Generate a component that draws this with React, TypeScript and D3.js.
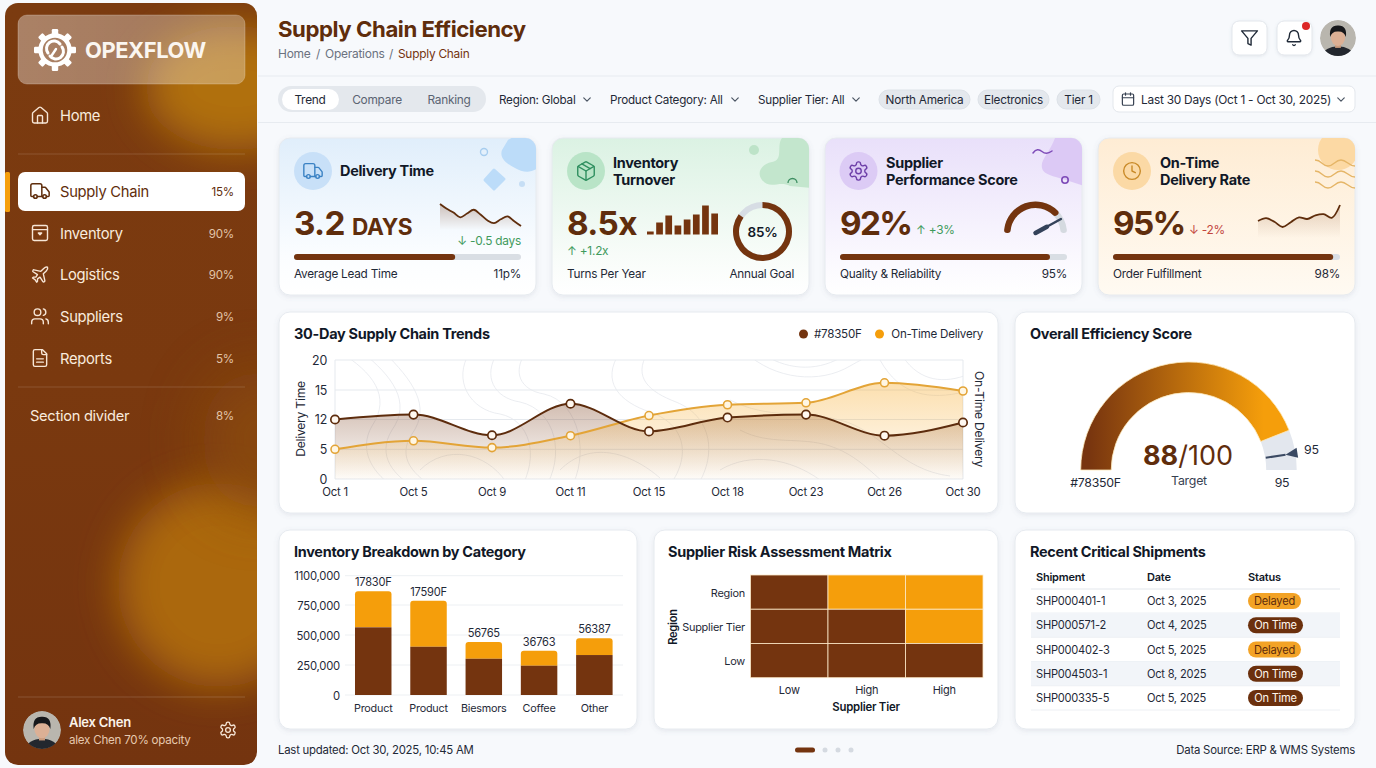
import * as d3 from 'd3';

const FONT = "Inter, 'Noto Sans', sans-serif";
const BROWN = '#74340F';
const AMBER = '#F59E0B';
const INK = '#111827';
const TITLE = '#5f2d0c';

// Trend chart
const trendDays = ['Oct 1', 'Oct 5', 'Oct 9', 'Oct 11', 'Oct 15', 'Oct 18', 'Oct 23', 'Oct 26', 'Oct 30'];
const deliveryTime = [12.0, 12.5, 8.3, 13.6, 9.2, 12.2, 12.5, 8.2, 11.3];
const onTimeDelivery = [5.0, 7.0, 5.4, 8.2, 12.4, 13.5, 13.7, 16.2, 14.9];
const trendTicks = [0, 5, 12, 15, 20];

// KPI minis
const leadSpark = [6.6, 6.1, 5.7, 5.2, 5.6, 6.0, 5.5, 4.9, 4.6, 5.0, 5.3, 4.8, 4.3];
const turnBars = [3, 12, 19, 9, 15, 20, 29, 21];
const fulfilSpark = [4.1, 4.8, 3.9, 2.6, 3.8, 5.0, 4.6, 5.5, 5.8, 4.9, 8.1];
const progressValues = [71, 92.5, 97];
const turnGoal = 85;
const supplierArc = 78;
const supplierNeedle = 84;

// Overall score
const overallScore = 88;
const overallTarget = 95;

// Inventory
const inventoryCategories = ['Product', 'Product', 'Biesmors', 'Coffee', 'Other'];
const inventoryLower = [564000, 402000, 302000, 244000, 333000];
const inventoryTotal = [913000, 801000, 442000, 369000, 472000];
const inventoryLabels = ['17830F', '17590F', '56765', '36763', '56387'];
const inventoryTicks = [0, 250000, 500000, 750000, 1100000];
const inventoryTickLabels = ['0', '250,000', '500,000', '750,000', '1100,000'];

// Risk matrix
const riskRows = ['Region', 'Supplier Tier', 'Low'];
const riskCols = ['Low', 'High', 'High'];
const riskLevels = [
  [0, 1, 1],
  [0, 0, 1],
  [0, 0, 0],
];

// Shipments
const shipmentIds = ['SHP000401-1', 'SHP000571-2', 'SHP000402-3', 'SHP004503-1', 'SHP000335-5'];
const shipmentDates = ['Oct 3, 2025', 'Oct 4, 2025', 'Oct 5, 2025', 'Oct 8, 2025', 'Oct 5, 2025'];
const shipmentStatus = ['Delayed', 'On Time', 'Delayed', 'On Time', 'On Time'];

// Sidebar
const navLabels = ['Inventory', 'Logistics', 'Suppliers', 'Reports'];
const navShares = ['90%', '90%', '9%', '5%'];

const ICONS: Record<string, string[]> = {
  truck: [
    'M14 18V6a2 2 0 0 0-2-2H4a2 2 0 0 0-2 2v11a1 1 0 0 0 1 1h2',
    'M15 18H9',
    'M19 18h2a1 1 0 0 0 1-1v-3.65a1 1 0 0 0-.22-.624l-3.48-4.35A1 1 0 0 0 17.52 8H14',
    'M19 18a2 2 0 1 1-4 0a2 2 0 1 1 4 0',
    'M9 18a2 2 0 1 1-4 0a2 2 0 1 1 4 0',
  ],
  home: [
    'M15 21v-8a1 1 0 0 0-1-1h-4a1 1 0 0 0-1 1v8',
    'M3 10a2 2 0 0 1 .709-1.528l7-5.999a2 2 0 0 1 2.582 0l7 5.999A2 2 0 0 1 21 10v9a2 2 0 0 1-2 2H5a2 2 0 0 1-2-2z',
  ],
  box: ['M5 3h14a2 2 0 0 1 2 2v14a2 2 0 0 1-2 2H5a2 2 0 0 1-2-2V5a2 2 0 0 1 2-2z', 'M3 8h18', 'M10 12h4l-2 2z'],
  plane: [
    'M17.8 19.2 16 11l3.5-3.5C21 6 21.5 4 21 3c-1-.5-3 0-4.5 1.5L13 8 4.8 6.2c-.5-.1-.9.1-1.1.5l-.3.5c-.2.5-.1 1 .3 1.3L9 12l-2 3H4l-1 1 3 2 2 3 1-1v-3l3-2 3.5 5.3c.3.4.8.5 1.3.3l.5-.2c.4-.3.6-.7.5-1.2z',
  ],
  users: [
    'M16 21v-2a4 4 0 0 0-4-4H6a4 4 0 0 0-4 4v2',
    'M16 3.128a4 4 0 0 1 0 7.744',
    'M22 21v-2a4 4 0 0 0-3-3.87',
    'M13 7a4 4 0 1 1-8 0a4 4 0 1 1 8 0',
  ],
  file: ['M15 2H6a2 2 0 0 0-2 2v16a2 2 0 0 0 2 2h12a2 2 0 0 0 2-2V7Z', 'M14 2v4a2 2 0 0 0 2 2h4', 'M16 13H8', 'M16 17H8'],
  gear: [
    'M12.22 2h-.44a2 2 0 0 0-2 2v.18a2 2 0 0 1-1 1.73l-.43.25a2 2 0 0 1-2 0l-.15-.08a2 2 0 0 0-2.73.73l-.22.38a2 2 0 0 0 .73 2.73l.15.1a2 2 0 0 1 1 1.72v.51a2 2 0 0 1-1 1.74l-.15.09a2 2 0 0 0-.73 2.73l.22.38a2 2 0 0 0 2.73.73l.15-.08a2 2 0 0 1 2 0l.43.25a2 2 0 0 1 1 1.73V20a2 2 0 0 0 2 2h.44a2 2 0 0 0 2-2v-.18a2 2 0 0 1 1-1.73l.43-.25a2 2 0 0 1 2 0l.15.08a2 2 0 0 0 2.73-.73l.22-.39a2 2 0 0 0-.73-2.73l-.15-.08a2 2 0 0 1-1-1.74v-.5a2 2 0 0 1 1-1.74l.15-.09a2 2 0 0 0 .73-2.73l-.22-.38a2 2 0 0 0-2.73-.73l-.15.08a2 2 0 0 1-2 0l-.43-.25a2 2 0 0 1-1-1.73V4a2 2 0 0 0-2-2z',
    'M15 12a3 3 0 1 1-6 0a3 3 0 1 1 6 0',
  ],
  package: [
    'M11 21.73a2 2 0 0 0 2 0l7-4A2 2 0 0 0 21 16V8a2 2 0 0 0-1-1.73l-7-4a2 2 0 0 0-2 0l-7 4A2 2 0 0 0 3 8v8a2 2 0 0 0 1 1.73z',
    'M12 22V12',
    'm3.3 7 8.7 5 8.7-5',
    'm7.5 4.27 9 5.15',
  ],
  clock: ['M22 12a10 10 0 1 1-20 0a10 10 0 1 1 20 0', 'M12 6v6l4 2'],
  filter: ['M22 3H2l8 9.46V19l4 2v-8.54L22 3z'],
  bell: [
    'M10.268 21a2 2 0 0 0 3.464 0',
    'M3.262 15.326A1 1 0 0 0 4 17h16a1 1 0 0 0 .74-1.673C19.41 13.956 18 12.499 18 8A6 6 0 0 0 6 8c0 4.499-1.411 5.956-2.738 7.326',
  ],
  calendar: ['M8 2v4', 'M16 2v4', 'M5 4h14a2 2 0 0 1 2 2v14a2 2 0 0 1-2 2H5a2 2 0 0 1-2-2V6a2 2 0 0 1 2-2z', 'M3 10h18'],
  chevron: ['m6 9 6 6 6-6'],
};

function Icon({ name, cx, cy, size, color, sw = 1.7 }: { name: string; cx: number; cy: number; size: number; color: string; sw?: number }) {
  const k = size / 24;
  return (
    <g transform={`translate(${cx - size / 2},${cy - size / 2}) scale(${k})`} fill="none" stroke={color} strokeWidth={sw / k} strokeLinecap="round" strokeLinejoin="round">
      {ICONS[name].map((d, i) => (
        <path key={i} d={d} />
      ))}
    </g>
  );
}

// The installed Inter runs wider than the reference's, hence the tightening here.
function Txt({ x, y, size = 12, weight = 400, fill = INK, anchor = 'start', children, ...rest }: any) {
  return (
    <text x={x} y={y} fontSize={size * 0.965} letterSpacing="-0.02em" fontWeight={weight} fill={fill} textAnchor={anchor} fontFamily={FONT} {...rest}>
      {children}
    </text>
  );
}

function Card({ x, y, w, h, fill = '#fff' }: { x: number; y: number; w: number; h: number; fill?: string }) {
  return <rect x={x} y={y} width={w} height={h} rx={11} fill={fill} stroke="#e6eaef" strokeWidth={1} filter="url(#cardShadow)" />;
}

function Avatar({ cx, cy, r, id }: { cx: number; cy: number; r: number; id: string }) {
  return (
    <g>
      <clipPath id={id}>
        <circle cx={cx} cy={cy} r={r} />
      </clipPath>
      <g clipPath={`url(#${id})`}>
        <circle cx={cx} cy={cy} r={r} fill="#b9b6ae" />
        <ellipse cx={cx} cy={cy + r * 0.98} rx={r * 0.85} ry={r * 0.52} fill="#23272e" />
        <rect x={cx - r * 0.16} y={cy + r * 0.2} width={r * 0.32} height={r * 0.35} fill="#c99a7c" />
        <ellipse cx={cx} cy={cy - r * 0.06} rx={r * 0.4} ry={r * 0.5} fill="#dcb095" />
        <path
          d={`M${cx - r * 0.44} ${cy - r * 0.05} Q${cx - r * 0.52} ${cy - r * 0.72} ${cx} ${cy - r * 0.7} Q${cx + r * 0.52} ${cy - r * 0.72} ${cx + r * 0.44} ${cy - r * 0.05} Q${cx + r * 0.34} ${cy - r * 0.38} ${cx} ${cy - r * 0.36} Q${cx - r * 0.34} ${cy - r * 0.38} ${cx - r * 0.44} ${cy - r * 0.05}Z`}
          fill="#17181b"
        />
      </g>
    </g>
  );
}

function Sidebar() {
  const rowY = d3.scalePoint<string>().domain(navLabels).range([233, 358]);
  const navIcons = ['box', 'plane', 'users', 'file'];
  return (
    <g>
      <clipPath id="sideClip">
        <rect x={5} y={3} width={252} height={762} rx={13} />
      </clipPath>
      <g clipPath="url(#sideClip)">
        <rect x={5} y={3} width={252} height={762} fill="url(#sideBase)" />
        <ellipse cx={235} cy={88} rx={90} ry={62} fill="#b0700f" filter="url(#blur18)" />
        <ellipse cx={218} cy={585} rx={100} ry={102} fill="#ab6811" filter="url(#blur18)" />
        <ellipse cx={262} cy={440} rx={60} ry={70} fill="#8f4f10" filter="url(#blur30)" opacity={0.7} />
      </g>
      <rect x={18} y={15} width={227} height={69} rx={9} fill="url(#logoGlass)" stroke="#ffffff" strokeOpacity={0.22} />
      <g transform="translate(55,50)">
        <g fill="none" stroke="#fff" strokeLinecap="round">
          <circle r={14.5} strokeWidth={4.4} />
          {d3.range(8).map(i => (
            <rect key={i} x={-3.2} y={-21} width={6.4} height={6.5} rx={1.2} fill="#fff" stroke="none" transform={`rotate(${i * 45})`} />
          ))}
          <path d="M-7 3A7.5 7.5 0 0 1 5 -6" strokeWidth={3} />
          <path d="M7 -3A7.5 7.5 0 0 1 -5 6" strokeWidth={3} />
          <path d="M1 -1L-3 5" strokeWidth={2.4} />
        </g>
      </g>
      <Txt x={85} y={57.5} size={22.7} weight={700} fill="#fbf6f0">OPEXFLOW</Txt>

      <Icon name="home" cx={40} cy={115.5} size={20} color="#f7e6d6" sw={1.4} />
      <Txt x={60} y={121} size={15.3} fill="#f9ebdd">Home</Txt>
      <line x1={18} x2={245} y1={154} y2={154} stroke="#fff" strokeOpacity={0.14} />

      <rect x={5} y={172} width={5} height={40} rx={1.5} fill={AMBER} />
      <rect x={18} y={172} width={227} height={39} rx={7} fill="#fff" />
      <Icon name="truck" cx={40} cy={191} size={22} color={TITLE} sw={1.5} />
      <Txt x={60} y={197} size={15.3} fill={TITLE}>Supply Chain</Txt>
      <Txt x={234} y={196} size={12} fill={TITLE} anchor="end">15%</Txt>

      {navLabels.map((label, i) => (
        <g key={label}>
          <Icon name={navIcons[i]} cx={40} cy={rowY(label)!} size={20} color="#f7e6d6" sw={1.4} />
          <Txt x={60} y={rowY(label)! + 5.5} size={15.3} fill="#f9ebdd">{label}</Txt>
          <Txt x={234} y={rowY(label)! + 4.5} size={12} fill="#e2c4a8" anchor="end">{navShares[i]}</Txt>
        </g>
      ))}
      <line x1={18} x2={245} y1={387} y2={387} stroke="#fff" strokeOpacity={0.14} />
      <Txt x={30} y={421} size={15.2} fill="#f9ebdd">Section divider</Txt>
      <Txt x={234} y={420} size={12} fill="#e2c4a8" anchor="end">8%</Txt>
      <line x1={18} x2={245} y1={697} y2={697} stroke="#fff" strokeOpacity={0.16} />
      <Avatar cx={42} cy={730} r={19} id="av1" />
      <Txt x={69} y={727} size={13.5} weight={600} fill="#fbf3ea">Alex Chen</Txt>
      <Txt x={69} y={744} size={12} fill="#e6c9ae">alex Chen 70% opacity</Txt>
      <Icon name="gear" cx={228} cy={730} size={19} color="#f7e6d6" sw={1.3} />
    </g>
  );
}

function Header() {
  const crumbs = [
    ['Home', 278],
    ['/', 316],
    ['Operations', 325],
    ['/', 389],
  ] as [string, number][];
  const filters = [
    ['Region: Global', 499, 587],
    ['Product Category: All', 610, 735],
    ['Supplier Tier: All', 758, 856],
  ] as [string, number, number][];
  const chips = [
    ['North America', 879, 970],
    ['Electronics', 978, 1049],
    ['Tier 1', 1057, 1100],
  ] as [string, number, number][];
  return (
    <g>
      <Txt x={278} y={37} size={23} weight={700} fill={TITLE}>Supply Chain Efficiency</Txt>
      {crumbs.map(([t, x]) => (
        <Txt key={x} x={x} y={58} size={12.4} fill="#6b7280">{t}</Txt>
      ))}
      <Txt x={398} y={58} size={12.3} fill={BROWN}>Supply Chain</Txt>
      {[1232, 1277].map(x => (
        <rect key={x} x={x} y={21} width={35} height={34} rx={7} fill="#fff" stroke="#e3e7ec" filter="url(#softShadow)" />
      ))}
      <Icon name="filter" cx={1249.5} cy={38} size={19} color="#1f2937" sw={1.4} />
      <Icon name="bell" cx={1294} cy={38} size={18} color="#1f2937" sw={1.4} />
      <circle cx={1306} cy={26} r={4} fill="#dc2626" />
      <Avatar cx={1338} cy={38} r={18} id="av2" />
      <line x1={258} x2={1376} y1={76} y2={76} stroke="#e7ebf0" />
      <line x1={258} x2={1376} y1={122.5} y2={122.5} stroke="#e7ebf0" />

      <rect x={278} y={86} width={208} height={26} rx={13} fill="#e4e8ed" />
      <rect x={282} y={89} width={57} height={21} rx={10.5} fill="#fff" />
      <Txt x={310} y={104} size={12.3} anchor="middle" fill="#1f2937">Trend</Txt>
      <Txt x={377} y={104} size={12.3} anchor="middle" fill="#5b6472">Compare</Txt>
      <Txt x={449} y={104} size={12.3} anchor="middle" fill="#5b6472">Ranking</Txt>
      {filters.map(([t, x, cx]) => (
        <g key={t}>
          <Txt x={x} y={104} size={12.1} fill="#1f2937">{t}</Txt>
          <Icon name="chevron" cx={cx} cy={99.5} size={13} color="#4b5563" sw={1.2} />
        </g>
      ))}
      {chips.map(([t, a, b]) => (
        <g key={t}>
          <rect x={a} y={90} width={b - a} height={19} rx={9.5} fill="#e4e8ed" stroke="#dde2e8" />
          <Txt x={(a + b) / 2} y={104} size={12.2} anchor="middle" fill="#1f2937">{t}</Txt>
        </g>
      ))}
      <rect x={1113} y={86} width={242} height={26} rx={6} fill="#fff" stroke="#e3e7ec" />
      <Icon name="calendar" cx={1128} cy={99} size={15} color="#374151" sw={1.2} />
      <Txt x={1141} y={104} size={12.3} fill="#1f2937">Last 30 Days (Oct 1 - Oct 30, 2025)</Txt>
      <Icon name="chevron" cx={1341} cy={99.5} size={13} color="#4b5563" sw={1.2} />
    </g>
  );
}

function ProgressBar({ x, value, left, right }: { x: number; value: number; left: string; right: string }) {
  const scale = d3.scaleLinear().domain([0, 100]).range([x, x + 227]);
  return (
    <g>
      <rect x={x} y={254} width={227} height={6} rx={3} fill="#d9dee4" />
      <rect x={x} y={254} width={scale(value) - x} height={6} rx={3} fill={BROWN} />
      <Txt x={x} y={278} size={12.2} fill="#1f2937">{left}</Txt>
      <Txt x={x + 227} y={278} size={12.2} fill="#1f2937" anchor="end">{right}</Txt>
    </g>
  );
}

function Spark({ data, x0, x1, y0, y1, floor, grad }: { data: number[]; x0: number; x1: number; y0: number; y1: number; floor: number; grad: string }) {
  const x = d3.scaleLinear().domain([0, data.length - 1]).range([x0, x1]);
  const y = d3.scaleLinear().domain([d3.min(data)!, d3.max(data)!]).range([y0, y1]);
  const line = d3.line<number>().x((_, i) => x(i)).y(d => y(d)).curve(d3.curveCatmullRom.alpha(0.5));
  const area = d3.area<number>().x((_, i) => x(i)).y0(floor).y1(d => y(d)).curve(d3.curveCatmullRom.alpha(0.5));
  return (
    <g>
      <path d={area(data)!} fill={`url(#${grad})`} />
      <path d={line(data)!} fill="none" stroke={TITLE} strokeWidth={1.8} strokeLinejoin="round" />
    </g>
  );
}

function KpiCards() {
  const barX = d3.scaleBand<number>().domain(d3.range(turnBars.length)).range([647, 718]).paddingInner(0.27);
  const barH = d3.scaleLinear().domain([0, 30]).range([0, 30]);
  const arc = d3.arc();
  const donutAngle = d3.scaleLinear().domain([0, 100]).range([0, 2 * Math.PI]);
  const gaugeAngle = d3.scaleLinear().domain([0, 100]).range([-Math.PI / 2, Math.PI / 2]);
  const nAngle = gaugeAngle(supplierNeedle);
  const gx = 1035.5;
  const gy = 233;
  return (
    <g>
      <Card x={279} y={138} w={257} h={157} fill="url(#cardBlue)" />
      <Card x={552} y={138} w={257} h={157} fill="url(#cardGreen)" />
      <Card x={825} y={138} w={257} h={157} fill="url(#cardPurple)" />
      <Card x={1098} y={138} w={257} h={157} fill="url(#cardOrange)" />

      {/* corner decorations */}
      <clipPath id="c1"><rect x={279} y={138} width={257} height={157} rx={11} /></clipPath>
      <clipPath id="c2"><rect x={552} y={138} width={257} height={157} rx={11} /></clipPath>
      <clipPath id="c3"><rect x={825} y={138} width={257} height={157} rx={11} /></clipPath>
      <clipPath id="c4"><rect x={1098} y={138} width={257} height={157} rx={11} /></clipPath>
      <g clipPath="url(#c1)">
        <path d="M508 140C516 134 532 136 538 142L538 168C530 174 522 172 515 168C507 164 499 158 502 150Z" fill="#bcdcf9" />
        <path d="M494 170L504 179L494 189L485 180Z" fill="#bcdcf9" stroke="#bcdcf9" strokeWidth={3} strokeLinejoin="round" />
        <circle cx={522} cy={184} r={3} fill="#c6def5" />
        <circle cx={484} cy={152} r={3.5} fill="none" stroke="#a7cdef" strokeWidth={1.4} />
      </g>
      <g clipPath="url(#c2)">
        <path d="M782 138L812 138L812 188L790 186C780 180 770 190 762 180C756 172 762 164 772 162C784 160 776 146 782 138Z" fill="#c3e6cd" />
        <circle cx={754} cy={150} r={5} fill="#bde3c8" />
        <path d="M788 183a4.5 4.5 0 0 1 9 0" fill="none" stroke="#3f8f63" strokeWidth={1.3} />
      </g>
      <g clipPath="url(#c3)">
        <path d="M1055 138L1084 138L1084 186L1072 182C1056 176 1044 176 1042 168C1040 160 1050 152 1055 138Z" fill="#dcc9f5" />
        <path d="M1033 153c3-4 6-4 9-1.5s6 2.5 10-.5" fill="none" stroke="#7e4bb8" strokeWidth={1.5} strokeLinecap="round" />
        <circle cx={1065} cy={180} r={3.2} fill="none" stroke="#7e4bb8" strokeWidth={1.6} />
      </g>
      <g clipPath="url(#c4)">
        <circle cx={1338} cy={150} r={20} fill="#fcd9a4" />
        {[163, 174, 185].map(y => (
          <path key={y} d={`M1315 ${y - 3}c7 0 7 6 13 6s7-6 13-6s7 6 14 6`} fill="none" stroke="#e5b567" strokeWidth={1.4} />
        ))}
      </g>

      {/* icon circles */}
      <circle cx={313} cy={171} r={19} fill="#c8e0f8" />
      <Icon name="truck" cx={313} cy={171} size={22} color="#3b82c4" sw={1.4} />
      <circle cx={586} cy={171} r={19} fill="#b9e4c7" />
      <Icon name="package" cx={586} cy={171} size={22} color="#2f8f5f" sw={1.4} />
      <circle cx={858.5} cy={171} r={19} fill="#dccbf5" />
      <Icon name="gear" cx={858.5} cy={171} size={22} color="#6d3fa8" sw={1.4} />
      <circle cx={1132} cy={171} r={19} fill="#fbd9a5" />
      <Icon name="clock" cx={1132} cy={171} size={20} color="#c98a28" sw={1.4} />

      <Txt x={340} y={176} size={15} weight={700}>Delivery Time</Txt>
      <Txt x={613} y={168} size={15} weight={700}>Inventory</Txt>
      <Txt x={613} y={185} size={15} weight={700}>Turnover</Txt>
      <Txt x={886} y={168} size={15} weight={700}>Supplier</Txt>
      <Txt x={886} y={185} size={15} weight={700}>Performance Score</Txt>
      <Txt x={1160} y={168} size={15} weight={700}>On-Time</Txt>
      <Txt x={1160} y={185} size={15} weight={700}>Delivery Rate</Txt>

      {/* Delivery time */}
      <Txt x={294} y={235} size={34.5} weight={700} fill={TITLE}>3.2</Txt>
      <Txt x={352} y={235} size={23.5} weight={700} fill={TITLE}>DAYS</Txt>
      <Spark data={leadSpark} x0={440} x1={521} y0={226} y1={204} floor={230} grad="sparkBrown" />
      <Txt x={521} y={245} size={12.3} fill="#3f9a5c" anchor="end">↓ -0.5 days</Txt>
      <ProgressBar x={294} value={progressValues[0]} left="Average Lead Time" right="11p%" />

      {/* Inventory turnover */}
      <Txt x={567} y={235} size={34.5} weight={700} fill={TITLE}>8.5x</Txt>
      {turnBars.map((v, i) => (
        <rect key={i} x={barX(i)} y={234.5 - barH(v)} width={barX.bandwidth()} height={barH(v)} fill={BROWN} />
      ))}
      <Txt x={567} y={255} size={12.3} fill="#3f9a5c">↑ +1.2x</Txt>
      <g transform="translate(762.5,231.5)">
        <circle r={26.5} fill="none" stroke="#d7dde4" strokeWidth={6} />
        <path d={arc({ innerRadius: 23.5, outerRadius: 29.5, startAngle: 0, endAngle: donutAngle(turnGoal) } as any)!} fill={BROWN} />
        <Txt x={0} y={5} size={14} weight={600} anchor="middle">85%</Txt>
      </g>
      <Txt x={567} y={278} size={12.2} fill="#1f2937">Turns Per Year</Txt>
      <Txt x={794} y={278} size={12.2} fill="#1f2937" anchor="end">Annual Goal</Txt>

      {/* Supplier */}
      <Txt x={840} y={235} size={34.5} weight={700} fill={TITLE} letterSpacing="-0.05em">92%</Txt>
      <Txt x={916} y={234} size={12.3} fill="#3f9a5c">↑ +3%</Txt>
      <g transform={`translate(${gx},${gy})`}>
        <path d={d3.arc().cornerRadius(3)({ innerRadius: 25, outerRadius: 31.5, startAngle: gaugeAngle(0), endAngle: gaugeAngle(100) } as any)!} fill="#d5dae0" />
        <path d={d3.arc().cornerRadius(3)({ innerRadius: 25, outerRadius: 31.5, startAngle: gaugeAngle(0), endAngle: gaugeAngle(supplierArc) } as any)!} fill={BROWN} />
        <line x1={0} y1={0} x2={Math.sin(nAngle) * 29} y2={-Math.cos(nAngle) * 29} stroke="#34425a" strokeWidth={2.5} strokeLinecap="round" />
        <line x1={0} y1={0} x2={Math.sin(nAngle) * 13} y2={-Math.cos(nAngle) * 13} stroke="#34425a" strokeWidth={4.5} strokeLinecap="round" />
      </g>
      <ProgressBar x={840} value={progressValues[1]} left="Quality & Reliability" right="95%" />

      {/* On-time */}
      <Txt x={1113} y={235} size={34.5} weight={700} fill={TITLE} letterSpacing="-0.05em">95%</Txt>
      <Txt x={1189} y={234} size={12.3} fill="#c2453d">↓ -2%</Txt>
      <Spark data={fulfilSpark} x0={1258} x1={1340} y0={227} y1={205} floor={238} grad="sparkAmber" />
      <ProgressBar x={1113} value={progressValues[2]} left="Order Fulfillment" right="98%" />
    </g>
  );
}

const contourPaths = [
  'M340 352C372 372 392 396 372 426C358 450 372 474 398 490',
  'M362 352C392 376 412 402 392 430C376 456 394 476 418 490',
  'M384 352C412 380 432 406 412 434C396 458 414 476 438 490',
  'M470 352C452 380 470 410 500 414C530 420 540 456 520 490',
  'M498 352C482 376 494 398 520 402C556 410 566 456 544 490',
  'M526 352C512 372 520 390 544 394C580 402 590 456 570 490',
  'M620 352C600 382 620 402 650 412C690 426 690 462 666 490',
  'M648 352C632 378 650 392 676 402C716 418 716 462 694 490',
  'M745 352C775 380 820 384 850 366C868 356 876 352 880 350',
  'M760 352C785 370 815 372 840 358',
  'M730 400C770 420 800 410 840 420C880 430 900 470 950 476',
  'M740 430C770 446 800 436 830 446C866 458 880 486 900 492',
  'M880 360C900 396 930 400 964 392',
  'M900 352C916 380 940 384 964 376',
  'M560 470C590 440 630 452 660 478',
  'M420 470C446 444 486 452 506 482',
  'M720 470C750 452 790 458 820 480',
];

function TrendChart() {
  const x = d3.scalePoint<string>().domain(trendDays).range([335, 963]);
  const y = d3.scaleLinear().domain(trendTicks).range([479, 449.3, 419.5, 390, 360]);
  const line = d3.line<number>().x((_, i) => x(trendDays[i])!).y(d => y(d)).curve(d3.curveMonotoneX);
  const area = d3.area<number>().x((_, i) => x(trendDays[i])!).y0(y(0)).y1(d => y(d)).curve(d3.curveMonotoneX);
  return (
    <g>
      <Card x={279} y={312} w={719} h={201} />
      <Txt x={294} y={339} size={15} weight={700}>30-Day Supply Chain Trends</Txt>
      <circle cx={803.5} cy={334} r={4.5} fill={BROWN} />
      <Txt x={814} y={338} size={12} fill="#1f2937">#78350F</Txt>
      <circle cx={879.5} cy={334} r={4.5} fill={AMBER} />
      <Txt x={983} y={338} size={12} fill="#1f2937" anchor="end">On-Time Delivery</Txt>

      <clipPath id="plotClip"><rect x={335} y={360} width={628} height={119} /></clipPath>
      <g clipPath="url(#plotClip)" fill="none" stroke="#e6e9ed" strokeWidth={0.8}>
        {contourPaths.map((d, i) => <path key={i} d={d} />)}
      </g>
      {trendTicks.map(t => (
        <g key={t}>
          <line x1={335} x2={963} y1={y(t)} y2={y(t)} stroke="#e5e9ee" />
          <Txt x={327} y={y(t) + 4.5} size={12.9} fill="#1f2937" anchor="end">{t}</Txt>
        </g>
      ))}
      <line x1={335} x2={335} y1={360} y2={479} stroke="#e5e9ee" />
      <line x1={963} x2={963} y1={360} y2={479} stroke="#e5e9ee" />
      <path d={area(deliveryTime)!} fill="url(#trendBrown)" />
      <path d={area(onTimeDelivery)!} fill="url(#trendAmber)" />
      <path d={line(onTimeDelivery)!} fill="none" stroke="#e3a437" strokeWidth={2} />
      <path d={line(deliveryTime)!} fill="none" stroke="#5d2c0d" strokeWidth={2} />
      {onTimeDelivery.map((v, i) => (
        <circle key={i} cx={x(trendDays[i])} cy={y(v)} r={4} fill="#fff6e3" stroke="#e3a437" strokeWidth={1.6} />
      ))}
      {deliveryTime.map((v, i) => (
        <circle key={i} cx={x(trendDays[i])} cy={y(v)} r={4.2} fill="#fff8f0" stroke="#5d2c0d" strokeWidth={1.7} />
      ))}
      {trendDays.map(d => (
        <Txt key={d} x={x(d)} y={496} size={11.8} fill="#1f2937" anchor="middle">{d}</Txt>
      ))}
      <Txt x={0} y={0} size={12.6} fill="#1f2937" anchor="middle" transform="translate(305,419) rotate(-90)">Delivery Time</Txt>
      <Txt x={0} y={0} size={12.6} fill="#1f2937" anchor="middle" transform="translate(975,419) rotate(90)">On-Time Delivery</Txt>
    </g>
  );
}

function EfficiencyGauge() {
  const angle = d3.scaleLinear().domain([0, 100]).range([-Math.PI / 2, Math.PI / 2]);
  const arc = d3.arc();
  const cx = 1188.7;
  const cy = 470;
  const target = angle(overallTarget);
  const px = (r: number) => Math.sin(target) * r;
  const py = (r: number) => -Math.cos(target) * r;
  const nx = Math.cos(target) * 5;
  const ny = Math.sin(target) * 5;
  return (
    <g>
      <Card x={1015} y={312} w={340} h={201} />
      <Txt x={1030} y={339} size={15} weight={700}>Overall Efficiency Score</Txt>
      <g transform={`translate(${cx},${cy})`}>
        <path d={arc({ innerRadius: 77.5, outerRadius: 108, startAngle: angle(overallScore), endAngle: angle(100) } as any)!} fill="#e3e7ee" />
        <path d={arc({ innerRadius: 77.5, outerRadius: 108, startAngle: angle(0), endAngle: angle(overallScore) } as any)!} fill="url(#gaugeGrad)" stroke="#fde7b8" strokeWidth={0.8} />
        <line x1={px(78)} y1={py(78)} x2={px(98)} y2={py(98)} stroke="#3b4a63" strokeWidth={2} />
        <path d={`M${px(98)} ${py(98)}L${px(110) + nx} ${py(110) + ny}L${px(110) - nx} ${py(110) - ny}Z`} fill="#3b4a63" />
      </g>
      <text x={1188} y={465} textAnchor="middle" fontFamily={FONT} fontSize={27} fill={TITLE}>
        <tspan fontWeight={700}>88</tspan>
        <tspan fontWeight={400}>/100</tspan>
      </text>
      <Txt x={1189} y={485} size={12.8} fill="#374151" anchor="middle">Target</Txt>
      <Txt x={1095.5} y={487} size={12.8} fill="#1f2937" anchor="middle">#78350F</Txt>
      <Txt x={1282} y={487} size={12.8} fill="#1f2937" anchor="middle">95</Txt>
      <Txt x={1304} y={454} size={12.8} fill="#1f2937">95</Txt>
    </g>
  );
}

function InventoryChart() {
  const x = d3.scaleBand<number>().domain(d3.range(inventoryCategories.length)).range([345.6, 622]).paddingInner(0.34).paddingOuter(0.17);
  const y = d3.scaleLinear().domain(inventoryTicks).range([695, 665, 635, 605, 575.7]);
  const topPath = (i: number) => {
    const x0 = x(i)!;
    const w = x.bandwidth();
    const y0 = y(inventoryTotal[i]);
    const y1 = y(inventoryLower[i]);
    return `M${x0} ${y1}V${y0 + 3}Q${x0} ${y0} ${x0 + 3} ${y0}H${x0 + w - 3}Q${x0 + w} ${y0} ${x0 + w} ${y0 + 3}V${y1}Z`;
  };
  return (
    <g>
      <Card x={279} y={530} w={358} h={199} />
      <Txt x={294} y={557} size={15} weight={700}>Inventory Breakdown by Category</Txt>
      {inventoryTicks.map((t, i) => (
        <g key={t}>
          <line x1={345} x2={623} y1={y(t)} y2={y(t)} stroke="#edf0f3" />
          <Txt x={340} y={y(t) + 4.5} size={11.7} fill="#1f2937" anchor="end">{inventoryTickLabels[i]}</Txt>
        </g>
      ))}
      {inventoryCategories.map((c, i) => (
        <g key={i}>
          <path d={topPath(i)} fill={AMBER} />
          <rect x={x(i)} y={y(inventoryLower[i])} width={x.bandwidth()} height={y(0) - y(inventoryLower[i])} fill={BROWN} />
          <Txt x={x(i)! + x.bandwidth() / 2} y={y(inventoryTotal[i]) - 5} size={11.5} fill="#1f2937" anchor="middle">{inventoryLabels[i]}</Txt>
          <Txt x={x(i)! + x.bandwidth() / 2} y={712} size={11.2} fill="#1f2937" anchor="middle">{c}</Txt>
        </g>
      ))}
    </g>
  );
}

function RiskMatrix() {
  const x = d3.scaleBand<number>().domain(d3.range(riskCols.length)).range([750.5, 983]);
  const y = d3.scaleBand<number>().domain(d3.range(riskRows.length)).range([575, 677.7]);
  const levelColor = d3.scaleOrdinal<number, string>().domain([0, 1]).range([BROWN, AMBER]);
  return (
    <g>
      <Card x={654} y={530} w={344} h={199} />
      <Txt x={668} y={557} size={15} weight={700}>Supplier Risk Assessment Matrix</Txt>
      {riskLevels.map((row, r) =>
        row.map((v, c) => (
          <rect key={`${r}-${c}`} x={x(c)} y={y(r)} width={x.bandwidth()} height={y.bandwidth()} fill={levelColor(v)} stroke="#fde9c8" strokeWidth={0.8} />
        )),
      )}
      {riskRows.map((l, r) => (
        <Txt key={l} x={745} y={y(r)! + y.bandwidth() / 2 + 4.5} size={11.3} fill="#1f2937" anchor="end">{l}</Txt>
      ))}
      {riskCols.map((l, c) => (
        <Txt key={c} x={x(c)! + x.bandwidth() / 2} y={694} size={11.4} fill="#1f2937" anchor="middle">{l}</Txt>
      ))}
      <Txt x={0} y={0} size={11.5} weight={600} anchor="middle" transform="translate(677,627) rotate(-90)">Region</Txt>
      <Txt x={866} y={711} size={11.8} weight={600} anchor="middle">Supplier Tier</Txt>
    </g>
  );
}

function ShipmentTable() {
  const y = d3.scalePoint<string>().domain(shipmentIds).range([601, 698]);
  return (
    <g>
      <Card x={1015} y={530} w={340} h={199} />
      <Txt x={1030} y={557} size={15} weight={700}>Recent Critical Shipments</Txt>
      <Txt x={1036} y={581} size={11.4} weight={600}>Shipment</Txt>
      <Txt x={1147} y={581} size={11.4} weight={600}>Date</Txt>
      <Txt x={1248} y={581} size={11.4} weight={600}>Status</Txt>
      <line x1={1031} x2={1340} y1={589} y2={589} stroke="#e3e7ec" />
      {shipmentIds.map((id, i) => {
        const cy = y(id)!;
        const delayed = shipmentStatus[i] === 'Delayed';
        return (
          <g key={id}>
            {i % 2 === 1 && <rect x={1031} y={cy - 12} width={309} height={24} fill="#f2f5f9" />}
            <line x1={1031} x2={1340} y1={cy + 12} y2={cy + 12} stroke="#edf0f4" />
            <Txt x={1036} y={cy + 4} size={11.5} fill="#1f2937">{id}</Txt>
            <Txt x={1147} y={cy + 4} size={11.5} fill="#1f2937">{shipmentDates[i]}</Txt>
            <rect x={1248} y={cy - 8} width={delayed ? 53 : 55} height={16} rx={8} fill={delayed ? '#f3a326' : '#6b300d'} />
            <Txt x={delayed ? 1274.5 : 1275.5} y={cy + 4} size={11.5} anchor="middle" fill={delayed ? '#5f2d0c' : '#fff7ec'}>{shipmentStatus[i]}</Txt>
          </g>
        );
      })}
    </g>
  );
}

function Footer() {
  return (
    <g>
      <Txt x={278} y={754} size={11.8} fill="#1f2937">Last updated: Oct 30, 2025, 10:45 AM</Txt>
      <rect x={795} y={747.5} width={20} height={5} rx={2.5} fill={BROWN} />
      {[825, 838, 851].map(cx => (
        <circle key={cx} cx={cx} cy={750} r={2.5} fill="#d5dae1" />
      ))}
      <Txt x={1355} y={754} size={11.8} fill="#1f2937" anchor="end">Data Source: ERP & WMS Systems</Txt>
    </g>
  );
}

export default function App() {
  return (
    <svg width={1376} height={768} viewBox="0 0 1376 768" style={{ position: 'absolute', left: 0, top: 0, display: 'block' }}>
      <defs>
        <filter id="cardShadow" x="-5%" y="-5%" width="110%" height="115%">
          <feDropShadow dx={0} dy={1.5} stdDeviation={2.5} floodColor="#64748b" floodOpacity={0.14} />
        </filter>
        <filter id="softShadow" x="-20%" y="-20%" width="140%" height="140%">
          <feDropShadow dx={0} dy={1} stdDeviation={1.5} floodColor="#64748b" floodOpacity={0.15} />
        </filter>
        <filter id="blur18" x="-60%" y="-60%" width="220%" height="220%"><feGaussianBlur stdDeviation={20} /></filter>
        <filter id="blur30" x="-60%" y="-60%" width="220%" height="220%"><feGaussianBlur stdDeviation={30} /></filter>
        <linearGradient id="sideBase" x1="0" x2="0" y1="0" y2="1">
          <stop offset="0" stopColor="#7b3b10" />
          <stop offset="0.5" stopColor="#7a390f" />
          <stop offset="1" stopColor="#74340f" />
        </linearGradient>
        <linearGradient id="logoGlass" x1="0" x2="1" y1="0" y2="0">
          <stop offset="0" stopColor="#fff" stopOpacity={0.36} />
          <stop offset="1" stopColor="#fff" stopOpacity={0.3} />
        </linearGradient>
        <linearGradient id="cardBlue" x1="0" x2="0" y1="0" y2="1">
          <stop offset="0" stopColor="#e0eefb" />
          <stop offset="0.75" stopColor="#fbfdff" />
          <stop offset="1" stopColor="#ffffff" />
        </linearGradient>
        <linearGradient id="cardGreen" x1="0" x2="0" y1="0" y2="1">
          <stop offset="0" stopColor="#dbf2e3" />
          <stop offset="0.75" stopColor="#f8fcf9" />
          <stop offset="1" stopColor="#ffffff" />
        </linearGradient>
        <linearGradient id="cardPurple" x1="0" x2="0" y1="0" y2="1">
          <stop offset="0" stopColor="#e9e0fa" />
          <stop offset="0.75" stopColor="#faf8fe" />
          <stop offset="1" stopColor="#ffffff" />
        </linearGradient>
        <linearGradient id="cardOrange" x1="0" x2="0" y1="0" y2="1">
          <stop offset="0" stopColor="#feecd4" />
          <stop offset="1" stopColor="#fffaf2" />
        </linearGradient>
        <linearGradient id="sparkBrown" x1="0" x2="0" y1="0" y2="1">
          <stop offset="0" stopColor={BROWN} stopOpacity={0.28} />
          <stop offset="1" stopColor={BROWN} stopOpacity={0} />
        </linearGradient>
        <linearGradient id="sparkAmber" x1="0" x2="0" y1="0" y2="1">
          <stop offset="0" stopColor={BROWN} stopOpacity={0.2} />
          <stop offset="1" stopColor={BROWN} stopOpacity={0} />
        </linearGradient>
        <linearGradient id="trendBrown" gradientUnits="userSpaceOnUse" x1="0" x2="0" y1="400" y2="480">
          <stop offset="0" stopColor={BROWN} stopOpacity={0.34} />
          <stop offset="1" stopColor={BROWN} stopOpacity={0} />
        </linearGradient>
        <linearGradient id="trendAmber" gradientUnits="userSpaceOnUse" x1="0" x2="0" y1="380" y2="480">
          <stop offset="0" stopColor={AMBER} stopOpacity={0.34} />
          <stop offset="1" stopColor={AMBER} stopOpacity={0.02} />
        </linearGradient>
        <linearGradient id="gaugeGrad" gradientUnits="userSpaceOnUse" x1="-100" x2="75" y1="0" y2="0">
          <stop offset="0" stopColor="#78350F" />
          <stop offset="1" stopColor="#F59E0B" />
        </linearGradient>
      </defs>
      <rect width={1376} height={768} fill="#f7f9fc" />
      <Sidebar />
      <Header />
      <KpiCards />
      <TrendChart />
      <EfficiencyGauge />
      <InventoryChart />
      <RiskMatrix />
      <ShipmentTable />
      <Footer />
    </svg>
  );
}
